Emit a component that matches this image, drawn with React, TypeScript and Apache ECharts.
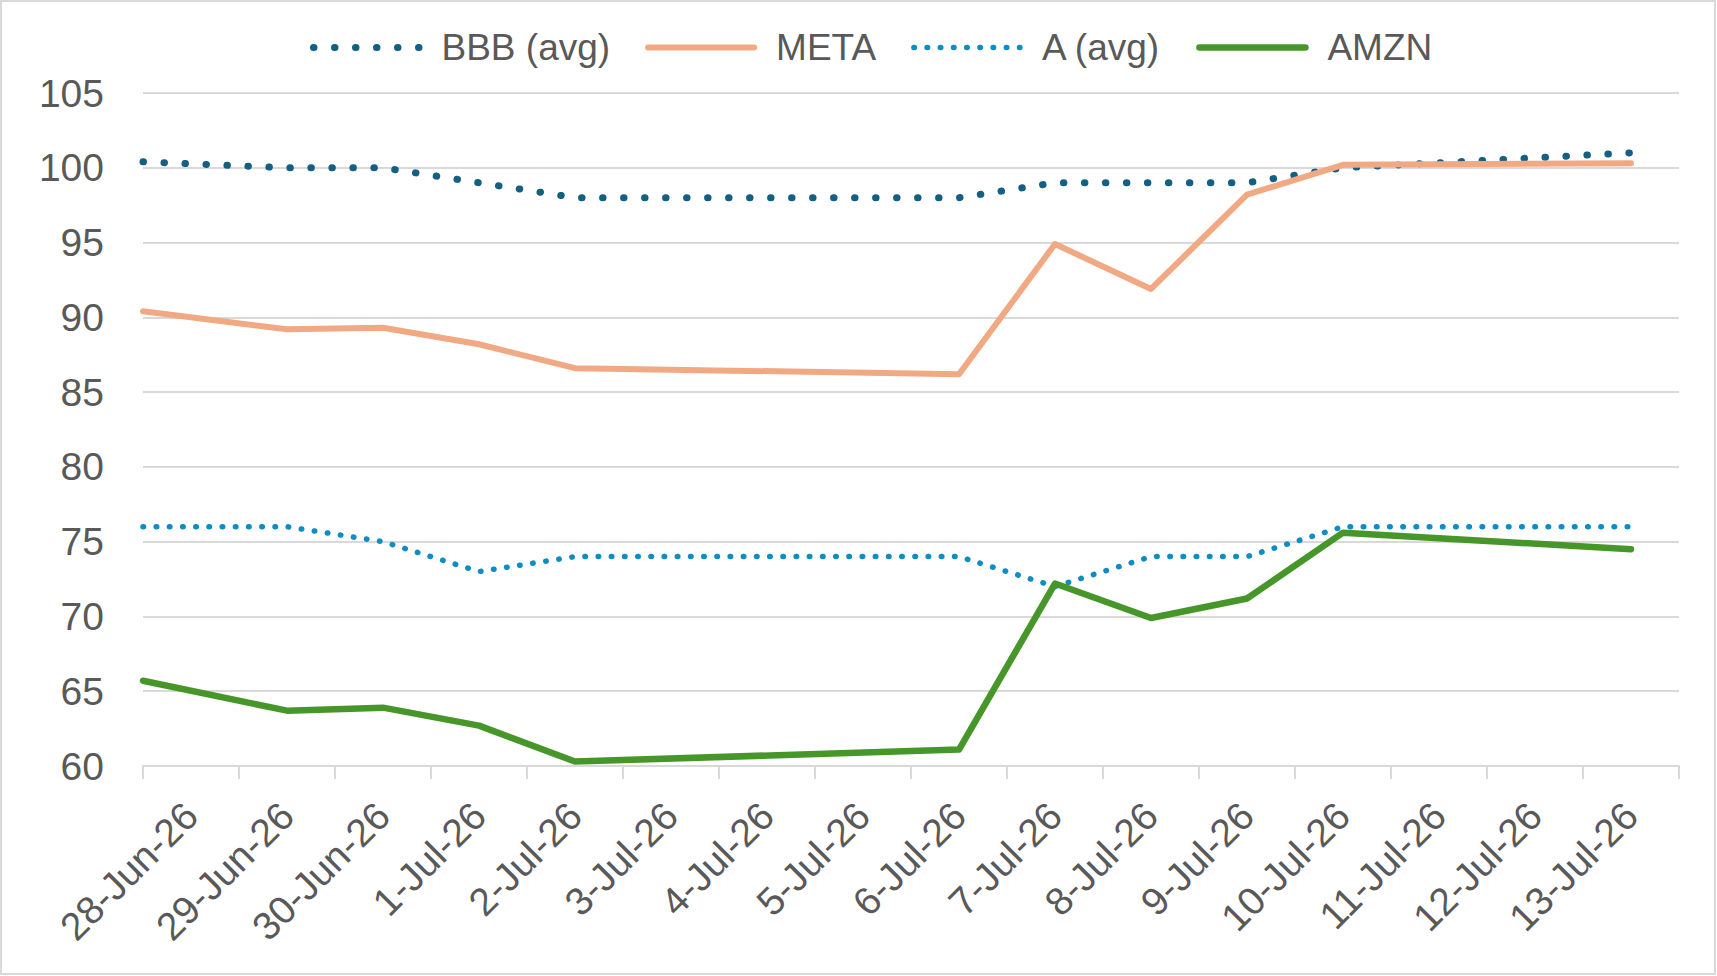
import React, { useEffect, useRef } from "react";
import * as echarts from "echarts";

// Date axis categories (one band per day)
const categories = [
  "28-Jun-26", "29-Jun-26", "30-Jun-26", "1-Jul-26", "2-Jul-26", "3-Jul-26",
  "4-Jul-26", "5-Jul-26", "6-Jul-26", "7-Jul-26", "8-Jul-26", "9-Jul-26",
  "10-Jul-26", "11-Jul-26", "12-Jul-26", "13-Jul-26",
];

// Positions of observations on the day axis (index of day; -0.5 = axis start)
const obsDay = [-0.5, 1, 2, 3, 4, 8, 9, 10, 11, 12, 15];

const bbbAvg = [100.4, 100, 100, 99, 98, 98, 99, 99, 99, 100, 101];
const meta = [90.4, 89.2, 89.3, 88.2, 86.6, 86.2, 94.9, 91.9, 98.2, 100.2, 100.3];
const aAvg = [76, 76, 75, 73, 74, 74, 72, 74, 74, 76, 76];
const amzn = [65.7, 63.7, 63.9, 62.7, 60.3, 61.1, 72.2, 69.9, 71.2, 75.6, 74.5];

const yMin = 60;
const yMax = 105;
const yStep = 5;

const FONT = "'Liberation Sans', Arial, sans-serif";
const TEXT = "#595959";
const GRID = "#d9d9d9";

const pair = (vals: number[]) => vals.map((v, i) => [obsDay[i], v]);

export default function App() {
  const ref = useRef<HTMLDivElement>(null);

  useEffect(() => {
    if (!ref.current) return;
    const chart = echarts.init(ref.current, undefined, { renderer: "svg" });
    const mk = (name: string, data: number[], color: string, width: number, type: any) => ({
      name,
      type: "line",
      xAxisIndex: 1,
      yAxisIndex: 0,
      data: pair(data),
      symbol: "none",
      showSymbol: false,
      lineStyle: { color, width, type, cap: "round", join: "round" },
      itemStyle: { color },
    });
    chart.setOption({
      animation: false,
      backgroundColor: "#ffffff",
      textStyle: { fontFamily: FONT },
      graphic: [
        {
          type: "rect",
          shape: { x: 1, y: 1, width: 1714, height: 973 },
          style: { fill: "none", stroke: GRID, lineWidth: 2 },
          silent: true,
        },
      ],
      legend: {
        top: 24,
        left: 305,
        itemWidth: 106,
        itemHeight: 14,
        itemGap: 35,
        itemStyle: { opacity: 0 },
        lineStyle: { width: "inherit", type: "inherit", cap: "inherit" },
        textStyle: { fontFamily: FONT, fontSize: 37, color: TEXT, padding: [0, 0, 0, 17] },
        data: ["BBB (avg)", "META", "A (avg)", "AMZN"],
      },
      grid: {
        left: 143,
        right: 38,
        top: 93,
        bottom: 210,
        outerBoundsMode: "none",
        containLabel: false,
      },
      xAxis: [
        {
          type: "category",
          data: categories,
          boundaryGap: true,
          axisLine: { show: true, lineStyle: { color: GRID, width: 2 } },
          axisTick: { show: true, length: 13, lineStyle: { color: GRID, width: 2 } },
          axisLabel: {
            interval: 0,
            rotate: 45,
            margin: 43,
            fontSize: 39,
            color: TEXT,
            fontFamily: FONT,
          },
          splitLine: { show: false },
        },
        {
          type: "value",
          min: -0.5,
          max: categories.length - 0.5,
          show: false,
          splitLine: { show: false },
        },
      ],
      yAxis: {
        type: "value",
        min: yMin,
        max: yMax,
        interval: yStep,
        axisLine: { show: false },
        axisTick: { show: false },
        axisLabel: { fontSize: 39, color: TEXT, margin: 39, fontFamily: FONT },
        splitLine: { show: true, lineStyle: { color: GRID, width: 2 } },
      },
      series: [
        mk("BBB (avg)", bbbAvg, "#156082", 7, [0.5, 20.5]),
        mk("META", meta, "#F1A983", 6, "solid"),
        mk("A (avg)", aAvg, "#0E8CC4", 5.5, [0.5, 12.7]),
        mk("AMZN", amzn, "#47962A", 6.5, "solid"),
      ],
    });
    return () => chart.dispose();
  }, []);

  return (
    <div
      ref={ref}
      style={{ position: "fixed", left: 0, top: 0, width: 1717, height: 976 }}
    />
  );
}
